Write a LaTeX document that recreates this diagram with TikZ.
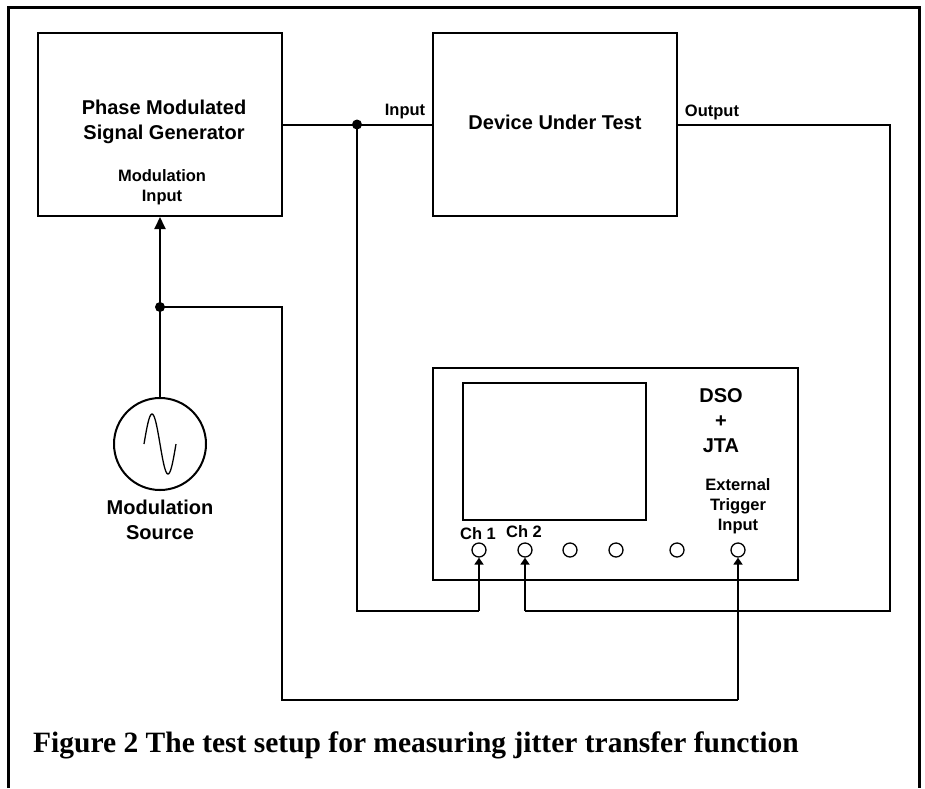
\documentclass[tikz,border=0pt]{standalone}
\usepackage{fontspec}
\setmainfont{Liberation Serif}
\setsansfont{Liberation Sans}
\usetikzlibrary{arrows.meta}
\tikzset{
  wire/.style={line width=2pt},
  boxnode/.style={draw, line width=2pt, inner sep=0pt},
  lbl/.style={font=\sffamily\bfseries\fontsize{16.5}{20}\selectfont, align=center, inner sep=0pt},
  biglbl/.style={font=\sffamily\bfseries\fontsize{20}{25}\selectfont, align=center, inner sep=0pt},
  port/.style={draw, circle, line width=1.3pt, minimum size=14pt, inner sep=0pt},
  tip/.style={-{Triangle[length=7pt,width=9pt]}},
  bigtip/.style={-{Triangle[length=12pt,width=11pt]}},
  junction/.style={circle, fill, minimum size=10pt, inner sep=0pt}
}
\begin{document}
\begin{tikzpicture}[x=1pt,y=-1pt]
\useasboundingbox (0,0) rectangle (925,788);
% frame
\draw[line width=3pt] (8,788) -- (8,7) -- (919,7) -- (919,788);
% boxes
\node[boxnode, minimum width=244pt, minimum height=183pt] (pmsg) at (160,124.5) {};
\node[boxnode, minimum width=244pt, minimum height=183pt] (dut) at (555,124.5) {};
\node[boxnode, minimum width=365pt, minimum height=212pt] (dso) at (615.5,474) {};
\node[draw, line width=1.5pt, inner sep=0pt, minimum width=183pt, minimum height=137pt] (screen) at (554.5,451.5) {};
\node[draw, circle, line width=2pt, minimum size=92pt, inner sep=0pt] (src) at (160,444) {};
% texts
\node[biglbl] (pmsgtxt) at (164,122) {Phase Modulated\\Signal Generator};
\node[lbl] (modin) at (162,187) {Modulation\\Input};
\node[biglbl] (duttxt) at (555,122) {Device Under Test};
\node[lbl] (inlbl) at (405,112) {Input};
\node[lbl] (outlbl) at (712,112) {Output};
\node[biglbl] (dsotxt) at (721,421) {DSO\\+\\JTA};
\node[lbl] (exttxt) at (738,506) {External\\Trigger\\Input};
\node[biglbl] (srctxt) at (160,520) {Modulation\\Source};
\node[lbl] (ch1) at (478,534) {Ch 1};
\node[lbl] (ch2) at (524,532) {Ch 2};
% sine
\draw[line width=1.3pt] plot[domain=0:1, samples=50, smooth] ({144+32*\x}, {444-30*sin(360*\x)});
% ports
\node[port] (c1) at (479,550) {};
\node[port] (c2) at (525,550) {};
\node[port] (c3) at (570,550) {};
\node[port] (c4) at (616,550) {};
\node[port] (c5) at (677,550) {};
\node[port] (c6) at (738,550) {};
% junctions
\node[junction] (j1) at (357,124.5) {};
\node[junction] (j2) at (160,307) {};
\coordinate (o1) at (890,124.5);
\coordinate (o2) at (890,611);
\coordinate (o3) at (525,611);
\coordinate (a1) at (357,611);
\coordinate (a2) at (479,611);
\coordinate (e1) at (282,307);
\coordinate (e2) at (282,700);
\coordinate (e3) at (738,700);
% wires
\draw[wire] (pmsg.east) -- (dut.west);
\draw[wire] (dut.east) -- (o1) -- (o2) -- (o3);
\draw[wire, tip] (o3) -- (c2.south);
\draw[wire] (j1.center) -- (a1) -- (a2);
\draw[wire, tip] (a2) -- (c1.south);
\draw[wire, bigtip] (src.north) -- (pmsg.south);
\draw[wire] (j2.center) -- (e1) -- (e2) -- (e3);
\draw[wire, tip] (e3) -- (c6.south);
% caption
\node[anchor=base west, inner sep=0pt, font=\rmfamily\bfseries\fontsize{29.5}{34}\selectfont] (cap) at (33,752) {Figure 2 The test setup for measuring jitter transfer function};
\end{tikzpicture}
\end{document}
